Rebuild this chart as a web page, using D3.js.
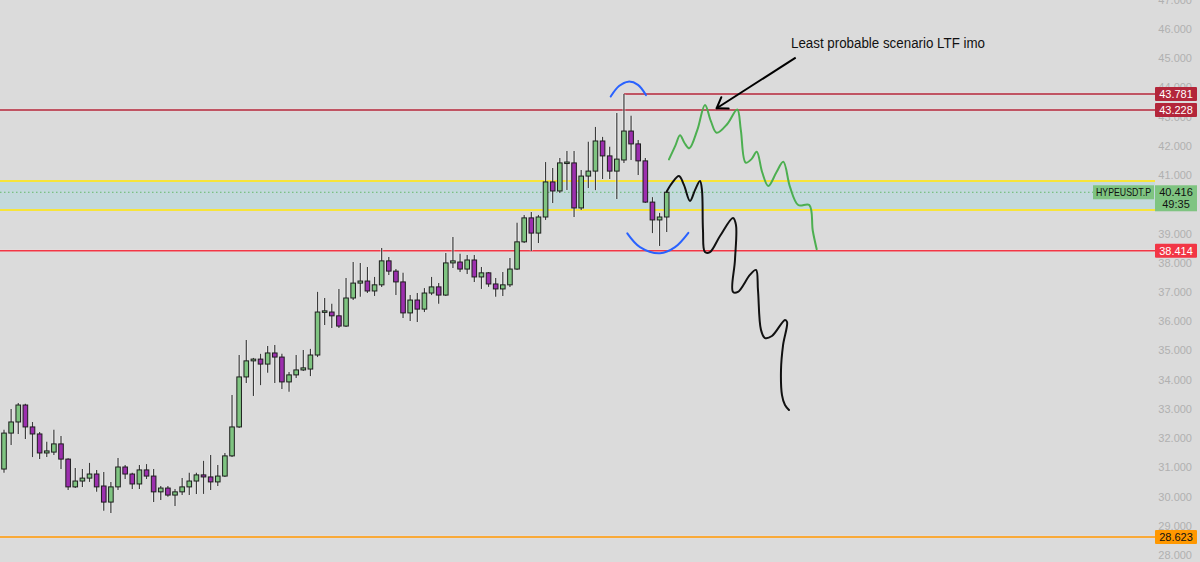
<!DOCTYPE html>
<html><head><meta charset="utf-8">
<script src="https://cdn.jsdelivr.net/npm/d3@7"></script>
<style>html,body{margin:0;padding:0;background:#dbdbdb;}svg{display:block;}</style>
</head><body>
<svg id="c" width="1200" height="562"></svg>
<script>
// ---- data ----
const opens = [30.95,32.18,32.56,33.14,32.39,32.15,31.50,31.53,31.81,31.29,
 30.34,30.54,30.64,30.78,30.37,29.82,30.34,31.02,30.78,30.44,
 30.92,30.71,30.17,30.30,30.06,30.17,30.34,30.54,30.75,30.68,
 30.51,30.71,31.40,32.39,34.10,34.65,34.71,34.54,34.92,34.78,
 33.93,34.17,34.34,34.37,34.85,36.32,36.32,36.19,35.84,36.80,
 37.31,37.38,37.04,37.25,38.07,37.72,37.35,36.29,36.73,36.42,
 36.97,37.18,36.90,38.00,38.03,37.79,38.10,37.52,37.66,37.28,
 37.11,37.25,37.79,38.72,39.54,39.02,39.57,40.77,40.46,41.42,
 41.42,39.88,40.97,41.14,42.17,41.66,41.14,41.52,42.51,42.07,
 41.49,40.08,39.47,39.57];
const closes = [32.18,32.56,33.14,32.39,32.15,31.50,31.57,31.81,31.29,30.34,
 30.54,30.64,30.78,30.34,29.82,30.34,31.02,30.78,30.44,30.92,
 30.71,30.17,30.30,30.06,30.17,30.34,30.54,30.75,30.68,30.51,
 30.71,31.40,32.39,34.10,34.65,34.71,34.54,34.92,34.78,33.93,
 34.17,34.34,34.41,34.85,36.32,36.36,36.19,35.84,36.80,37.31,
 37.38,37.04,37.25,38.07,37.72,37.35,36.29,36.73,36.42,36.97,
 37.18,36.90,38.00,38.07,37.79,38.10,37.52,37.66,37.28,37.11,
 37.25,37.79,38.72,39.54,39.02,39.57,40.77,40.46,41.42,41.45,
 39.88,40.97,41.14,42.17,41.66,41.14,41.55,42.51,42.07,41.49,
 40.08,39.47,39.57,40.416];
const highs = [32.29,33.00,33.21,33.18,32.56,32.22,31.88,32.29,32.08,31.32,
 30.99,30.95,31.16,30.92,30.85,30.51,31.33,31.09,30.82,31.09,
 31.12,30.95,30.37,30.37,30.27,30.64,30.82,30.82,31.23,31.43,
 31.09,31.50,33.48,34.85,35.36,34.75,34.89,35.16,35.19,34.89,
 34.27,34.85,35.02,35.06,37.01,36.80,36.60,37.11,37.48,38.03,
 38.00,37.86,37.52,38.51,38.20,37.79,37.66,36.90,36.97,37.14,
 37.52,37.31,38.34,38.89,38.31,38.27,38.27,37.86,37.69,37.48,
 37.69,38.17,39.37,39.64,39.74,39.64,41.45,41.25,41.59,41.83,
 41.83,41.18,42.14,42.65,42.31,41.97,43.13,43.781,43.03,42.20,
 41.59,40.25,39.71,40.46];
const lows = [30.82,31.77,32.15,31.98,31.36,31.29,31.36,31.43,30.95,30.23,
 30.30,30.34,30.51,30.17,29.52,29.45,30.23,30.61,30.27,30.27,
 30.61,29.82,29.89,30.00,29.69,30.06,30.06,30.10,30.10,30.23,
 30.37,30.68,31.36,32.35,33.89,33.45,33.82,34.24,33.89,33.69,
 33.59,34.06,34.30,34.13,34.78,35.88,35.77,35.77,35.81,36.73,
 36.84,36.97,36.87,37.18,37.59,36.90,36.12,36.01,35.98,36.32,
 36.90,36.60,36.87,37.83,37.69,37.62,37.35,37.11,37.18,36.84,
 36.87,37.18,37.76,38.68,38.41,38.68,39.47,40.05,40.39,40.49,
 39.57,39.81,40.56,40.49,40.87,40.87,40.19,41.42,41.52,41.01,
 40.05,39.02,38.58,39.06];
const tickValues = [28,29,30,31,32,33,34,35,36,37,38,39,40,41,42,43,44,45,46,47];
const symbol = "HYPEUSDT.P";
const lastPrice = 40.416;
const countdown = "49:35";
const zoneTop = 40.80, zoneBottom = 39.81;
const highLevel = 43.781;     // ray from the top wick
const resistLevel = 43.228;
const supportLevel = 38.414;
const lowLevel = 28.623;
const noteText = "Least probable scenario LTF imo";
// hand-drawn paths, in (bar index, price) space
const greenPath = [[93.32,41.54],[94.2,42.0],[94.87,42.37],[95.5,42.10],[96.17,41.92],[97.3,42.55],[98.37,43.40],[99.2,42.85],[100.01,42.45],[101.5,42.75],[102.9,43.25],[103.4,42.55],[104.08,41.43],[104.9,41.55],[105.63,41.80],[106.4,41.10],[107.26,40.63],[108.4,41.10],[109.36,41.46],[110.3,40.60],[111.46,39.98],[113.01,39.98],[113.5,39.10],[114.05,38.47]];
const blackPath = [[93.0,40.44],[93.74,40.73],[94.72,40.97],[95.43,40.66],[96.27,40.12],[96.97,40.49],[97.67,40.80],[97.95,40.49],[98.09,39.13],[98.37,38.37],[99.07,38.37],[100.48,38.92],[102.3,39.54],[102.72,39.30],[102.58,38.10],[102.3,37.01],[103.0,37.01],[104.68,37.59],[105.53,37.76],[105.81,37.07],[106.23,35.71],[106.79,35.43],[107.77,35.50],[109.6,36.05],[109.89,35.98],[109.33,35.19],[109.04,34.34],[109.18,33.48],[109.6,33.14],[110.16,32.97]];
const arcTop = [[85.14,43.69],[86.31,44.05],[87.61,44.20],[88.97,44.09],[90.09,43.74]];
const arcBottom = [[87.47,39.01],[89.25,38.54],[92.06,38.33],[94.17,38.54],[96.04,39.03]];
const arrowFrom = [111.1, 45.02], arrowTo = [100.01, 43.29];

// ---- scales ----
const W = 1200, H = 562, plotRight = 1155;
const x = d3.scaleLinear().domain([0, 93]).range([4, 666.7]);
const y = d3.scaleLinear().domain([28, 46]).range([555.3, 29]);
const svg = d3.select("#c");
const font = "Liberation Sans, Arial, sans-serif";
svg.append("rect").attr("width", W).attr("height", H).attr("fill", "#dbdbdb");

// zone band
svg.append("rect").attr("x", 0).attr("width", plotRight)
  .attr("y", y(zoneTop)).attr("height", y(zoneBottom) - y(zoneTop))
  .attr("fill", "#c3d9dc");
[zoneTop, zoneBottom].forEach(v => svg.append("line").attr("x1", 0).attr("x2", plotRight)
  .attr("y1", y(v)).attr("y2", y(v)).attr("stroke", "#f7e43a").attr("stroke-width", 2));
// last price dotted line
svg.append("line").attr("x1", 0).attr("x2", plotRight).attr("y1", y(lastPrice)).attr("y2", y(lastPrice))
  .attr("stroke", "#66bb6a").attr("stroke-width", 1).attr("stroke-dasharray", "1.5,2.5");

// horizontal levels
function hline(v, x0, color, w) {
  svg.append("line").attr("x1", x0).attr("x2", plotRight).attr("y1", y(v)).attr("y2", y(v))
    .attr("stroke", "#f0e0e0").attr("stroke-width", w + 1.5).attr("opacity", 0.5);
  svg.append("line").attr("x1", x0).attr("x2", plotRight).attr("y1", y(v)).attr("y2", y(v))
    .attr("stroke", color).attr("stroke-width", w);
}
hline(highLevel, x(87), "#b3263a", 1.5);
hline(resistLevel, 0, "#b3263a", 1.5);
hline(supportLevel, 0, "#f23645", 1.5);
hline(lowLevel, 0, "#ff9800", 1.5);

// candles
const idx = d3.range(opens.length);
const cg = svg.append("g");
const bw = 4.6;
cg.selectAll("line.halo").data(idx).join("line")
  .attr("x1", i => x(i)).attr("x2", i => x(i)).attr("y1", i => y(highs[i])).attr("y2", i => y(lows[i]))
  .attr("stroke", "#ffffff").attr("stroke-width", 3).attr("opacity", 0.45);
cg.selectAll("line.wick").data(idx).join("line")
  .attr("x1", i => x(i)).attr("x2", i => x(i)).attr("y1", i => y(highs[i])).attr("y2", i => y(lows[i]))
  .attr("stroke", "#3c3c3c").attr("stroke-width", 1.2);
cg.selectAll("rect.body").data(idx).join("rect")
  .attr("x", i => x(i) - bw / 2).attr("width", bw)
  .attr("y", i => y(Math.max(opens[i], closes[i])))
  .attr("height", i => Math.max(1.5, Math.abs(y(opens[i]) - y(closes[i]))))
  .attr("fill", i => closes[i] >= opens[i] ? "#7fc481" : "#9c2fae")
  .attr("stroke", "#1e1e1e").attr("stroke-width", 1);

// hand-drawn annotations
const line = d3.line().x(d => x(d[0])).y(d => y(d[1])).curve(d3.curveCatmullRom.alpha(0.5));
svg.append("path").attr("d", line(greenPath)).attr("fill", "none").attr("stroke", "#4caf50").attr("stroke-width", 2).attr("stroke-linecap", "round").attr("stroke-linejoin", "round");
svg.append("path").attr("d", line(blackPath)).attr("fill", "none").attr("stroke", "#111").attr("stroke-width", 2).attr("stroke-linecap", "round").attr("stroke-linejoin", "round");
svg.append("path").attr("d", line(arcTop)).attr("fill", "none").attr("stroke", "#2962ff").attr("stroke-width", 2).attr("stroke-linecap", "round");
svg.append("path").attr("d", line(arcBottom)).attr("fill", "none").attr("stroke", "#2962ff").attr("stroke-width", 2).attr("stroke-linecap", "round");

// arrow
const ax0 = x(arrowFrom[0]), ay0 = y(arrowFrom[1]), ax1 = x(arrowTo[0]), ay1 = y(arrowTo[1]);
svg.append("line").attr("x1", ax0).attr("y1", ay0).attr("x2", ax1).attr("y2", ay1).attr("stroke", "#000").attr("stroke-width", 2);
const ang = Math.atan2(ay0 - ay1, ax0 - ax1);
[-0.6, 0.6].forEach(a => svg.append("line").attr("x1", ax1).attr("y1", ay1)
  .attr("x2", ax1 + 12 * Math.cos(ang + a)).attr("y2", ay1 + 12 * Math.sin(ang + a))
  .attr("stroke", "#000").attr("stroke-width", 2).attr("stroke-linecap", "round"));
svg.append("text").attr("x", 791).attr("y", 48).text(noteText)
  .attr("font-family", font).attr("font-size", 14).attr("fill", "#111")
  .attr("textLength", 194).attr("lengthAdjust", "spacingAndGlyphs");

// price axis ticks (the last-price label hides the tick beneath it)
const ly = y(lastPrice);
svg.append("g").selectAll("text").data(tickValues.filter(d => Math.abs(y(d) - (ly + 6)) > 14)).join("text")
  .attr("x", 1192).attr("y", d => y(d)).attr("dy", "0.35em").attr("text-anchor", "end")
  .attr("font-family", font).attr("font-size", 11).attr("fill", "#b0b0b0")
  .text(d => d3.format(".3f")(d));

// price labels
function plabel(v, bg, fg) {
  svg.append("rect").attr("x", 1155).attr("y", y(v) - 7).attr("width", 42).attr("height", 14).attr("fill", bg).attr("rx", 1);
  svg.append("text").attr("x", 1176).attr("y", y(v)).attr("dy", "0.36em").attr("text-anchor", "middle")
    .attr("font-family", font).attr("font-size", 11).attr("fill", fg).text(d3.format(".3f")(v));
}
plabel(highLevel, "#b3263a", "#fff");
plabel(resistLevel, "#b3263a", "#fff");
plabel(supportLevel, "#f23645", "#fff");
plabel(lowLevel, "#ff9800", "#111");

// last price label + symbol
svg.append("rect").attr("x", 1093).attr("y", ly - 7).attr("width", 61).attr("height", 14).attr("fill", "#7fc481");
svg.append("text").attr("x", 1096).attr("y", ly).attr("dy", "0.36em")
  .attr("font-family", font).attr("font-size", 10.5).attr("fill", "#111")
  .attr("textLength", 55).attr("lengthAdjust", "spacingAndGlyphs").text(symbol);
svg.append("rect").attr("x", 1155).attr("y", ly - 7).attr("width", 42).attr("height", 26).attr("fill", "#7fc481");
svg.append("text").attr("x", 1176).attr("y", ly).attr("dy", "0.36em").attr("text-anchor", "middle")
  .attr("font-family", font).attr("font-size", 11).attr("fill", "#111").text(d3.format(".3f")(lastPrice));
svg.append("text").attr("x", 1176).attr("y", ly + 12).attr("dy", "0.36em").attr("text-anchor", "middle")
  .attr("font-family", font).attr("font-size", 11).attr("fill", "#111").text(countdown);
</script>
</body></html>
